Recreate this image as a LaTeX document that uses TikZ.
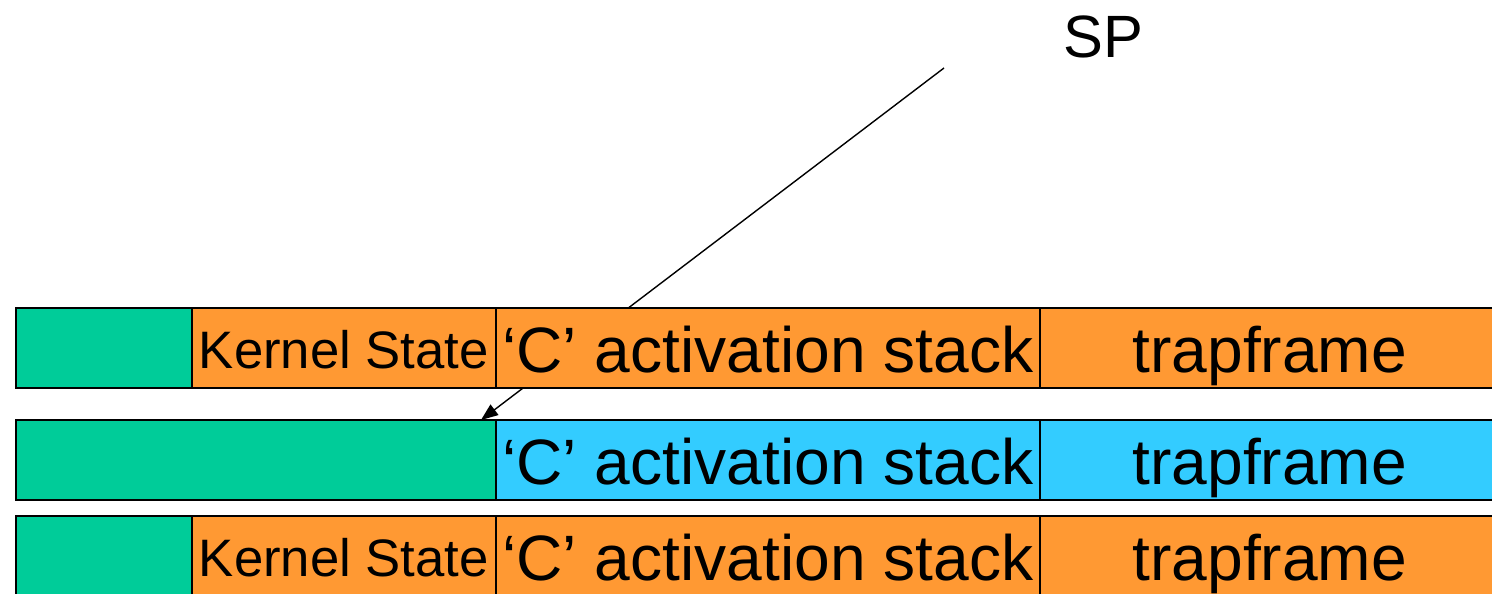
\documentclass[tikz,border=0pt]{standalone}
\usepackage{fontspec}
\setmainfont{Liberation Sans}
\usetikzlibrary{positioning, arrows.meta}
\definecolor{kgreen}{HTML}{00CC99}
\definecolor{korange}{HTML}{FF9933}
\definecolor{kblue}{HTML}{33CCFF}
\tikzset{
    cell/.style={draw, line width=1.1pt, inner sep=0pt, outer sep=0pt, minimum height=1.6cm},
    big text/.style={font=\fontsize{36.5}{40}\selectfont, text height=1.2cm, text depth=0.2cm},
    small text/.style={font=\fontsize{30}{34}\selectfont, text height=1.0cm, text depth=0.16cm},
    pad/.style={cell, fill=kgreen},
    kstate/.style={cell, fill=korange, minimum width=6.08cm, small text},
    cstack/.style={cell, minimum width=10.88cm, big text},
    tframe/.style={cell, minimum width=9.2cm, big text},
    sp_arrow/.style={line width=0.8pt, -{Triangle[length=0.34cm, width=0.26cm]}}
}

\begin{document}
\begin{tikzpicture}[x=0.02cm, y=-0.02cm]
    \useasboundingbox (0,0) rectangle (1492,594);

    % --- Stack pointer ---
    \node (sp) [font=\fontsize{34}{38}\selectfont] at (1103,37) {SP};
    \coordinate (sptail) at (944,68);
    \coordinate (sptip) at (481,420);
    \draw[sp_arrow] (sptail) -- (sptip);

    % --- Row 1 ---
    \node (padA) [pad, anchor=north west, minimum width=3.52cm] at (16,308) {};
    \node (kstateA) [kstate, right=0cm of padA] {Kernel State};
    \node (cstackA) [cstack, fill=korange, right=0cm of kstateA] {‘C’ activation stack};
    \node (tframeA) [tframe, fill=korange, right=0cm of cstackA] {trapframe};

    % --- Row 2 ---
    \node (padB) [pad, anchor=north west, minimum width=9.6cm] at (16,420) {};
    \node (cstackB) [cstack, fill=kblue, right=0cm of padB] {‘C’ activation stack};
    \node (tframeB) [tframe, fill=kblue, right=0cm of cstackB] {trapframe};

    % --- Row 3 ---
    \node (padC) [pad, anchor=north west, minimum width=3.52cm] at (16,516) {};
    \node (kstateC) [kstate, right=0cm of padC] {Kernel State};
    \node (cstackC) [cstack, fill=korange, right=0cm of kstateC] {‘C’ activation stack};
    \node (tframeC) [tframe, fill=korange, right=0cm of cstackC] {trapframe};
\end{tikzpicture}
\end{document}
